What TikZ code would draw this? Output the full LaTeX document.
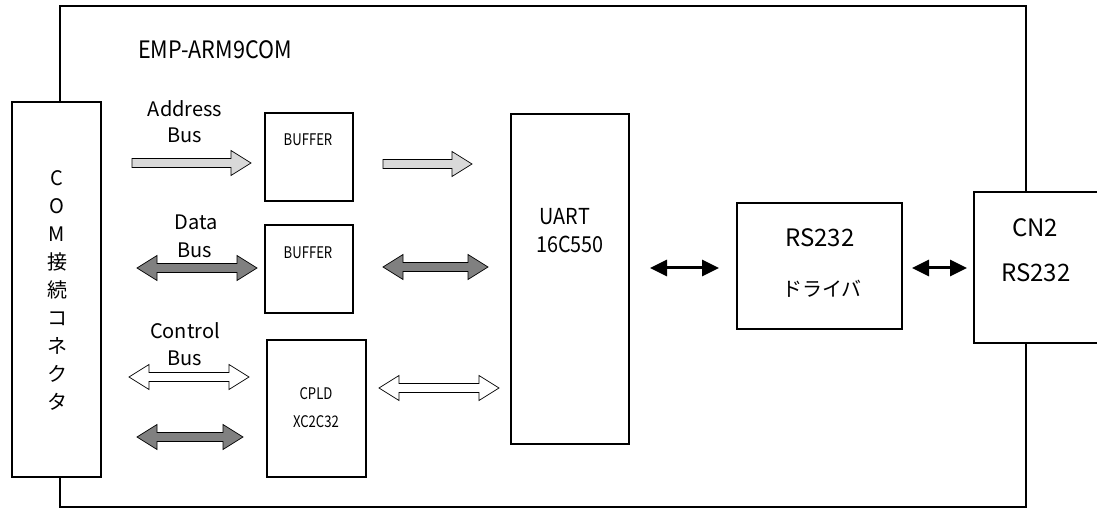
\documentclass[tikz,border=0pt]{standalone}
\usepackage{fontspec}
\setmainfont{Noto Sans CJK JP}
\newfontfamily\jp{Noto Sans CJK JP}
\newfontfamily\lat[FakeStretch=0.9]{Noto Sans CJK JP}
\newfontfamily\cond[FakeStretch=0.82]{Noto Sans CJK JP}
\usetikzlibrary{arrows.meta,calc}
\definecolor{lgray}{RGB}{217,217,217}
\definecolor{dgray}{RGB}{128,128,128}
\newcommand\onearrow[4]{%
  \draw[barrow,fill=#4] (#1,{#3-4.5}) -- ({#2-20},{#3-4.5}) -- ({#2-20},{#3-12.5}) -- (#2,#3)
    -- ({#2-20},{#3+12.5}) -- ({#2-20},{#3+4.5}) -- (#1,{#3+4.5}) -- cycle;}
\newcommand\twoarrow[4]{%
  \draw[barrow,fill=#4] (#1,#3) -- ({#1+20},{#3-12.5}) -- ({#1+20},{#3-4.5}) -- ({#2-20},{#3-4.5})
    -- ({#2-20},{#3-12.5}) -- (#2,#3) -- ({#2-20},{#3+12.5}) -- ({#2-20},{#3+4.5})
    -- ({#1+20},{#3+4.5}) -- ({#1+20},{#3+12.5}) -- cycle;}
\begin{document}
\begin{tikzpicture}[x=1pt,y=-1pt,
  board/.style={draw=black,line width=1.2pt},
  blockbox/.style={draw=black,fill=white,line width=1.6pt,inner sep=0pt},
  barrow/.style={draw=black,line width=0.7pt,line join=miter},
  titletxt/.style={font=\lat\fontsize{24}{24}\selectfont,inner sep=0pt,anchor=base},
  bigtxt/.style={font=\jp\fontsize{24}{24}\selectfont,inner sep=0pt,anchor=base},
  lbltxt/.style={font=\jp\fontsize{20}{20}\selectfont,inner sep=0pt,anchor=base},
  midtxt/.style={font=\lat\fontsize{22}{22}\selectfont,inner sep=0pt,anchor=base},
  smalltxt/.style={font=\cond\fontsize{16}{16}\selectfont,inner sep=0pt,anchor=base},
  blackarrow/.style={line width=3pt,{Triangle[length=17pt,width=16pt]}-{Triangle[length=17pt,width=16pt]}}]
\useasboundingbox (0,0) rectangle (1097,510);
\clip (0,0) rectangle (1097,510);
\fill[white] (0,0) rectangle (1097,510);
% board
\draw[board] (60,6) rectangle (1026,507);
% boxes
\node[blockbox,minimum width=89pt,minimum height=375pt] (com) at (56.5,289.5) {};
\node[blockbox,minimum width=88pt,minimum height=88pt] (buf1) at (309,157) {};
\node[blockbox,minimum width=88pt,minimum height=88pt] (buf2) at (309,269) {};
\node[blockbox,minimum width=99pt,minimum height=137pt] (cpld) at (316.5,408.5) {};
\node[blockbox,minimum width=118pt,minimum height=330pt] (uart) at (570,279) {};
\node[blockbox,minimum width=165pt,minimum height=126pt] (rs) at (819.5,266) {};
\node[blockbox,minimum width=140pt,minimum height=151pt] (cn) at (1044,267.5) {};
% texts
\node[titletxt] (title) at (215,59) {EMP-ARM9COM};
\node[font=\jp\fontsize{20}{28}\selectfont,align=center,inner sep=0pt] (comtxt) at (57,290) {C\\O\\M\\接\\続\\コ\\ネ\\ク\\タ};
\node[lbltxt] (addr1) at (185,117) {Address};
\node[lbltxt] (addr2) at (185,143) {Bus};
\node[lbltxt] (data1) at (196,230) {Data};
\node[lbltxt] (data2) at (195,258) {Bus};
\node[lbltxt] (ctrl1) at (185,338) {Control};
\node[lbltxt] (ctrl2) at (185,366) {Bus};
\node[smalltxt] (b1txt) at (308,146) {BUFFER};
\node[smalltxt] (b2txt) at (308,259) {BUFFER};
\node[smalltxt] (c1txt) at (316,399) {CPLD};
\node[smalltxt] (c2txt) at (316,427) {XC2C32};
\node[midtxt] (u1txt) at (565,225) {UART};
\node[midtxt] (u2txt) at (570,253) {16C550};
\node[bigtxt] (r1txt) at (820,247) {RS232};
\node[font=\jp\fontsize{20}{20}\selectfont,inner sep=0pt] (r2txt) at (822,289) {ドライバ};
\node[bigtxt] (n1txt) at (1035,237) {CN2};
\node[bigtxt] (n2txt) at (1036,282) {RS232};
% block arrows
\onearrow{132}{251}{163}{lgray}
\onearrow{383}{472}{164}{lgray}
\twoarrow{137}{257}{268}{dgray}
\twoarrow{383}{488}{267}{dgray}
\twoarrow{129}{249}{377}{white}
\twoarrow{379}{499}{388}{white}
\twoarrow{137}{243}{437}{dgray}
% black arrows
\coordinate (a1) at (650,268);
\coordinate (a2) at (719,268);
\coordinate (a3) at (912,268);
\coordinate (a4) at (967,268);
\draw[blackarrow] (a1) -- (a2);
\draw[blackarrow] (a3) -- (a4);
\end{tikzpicture}
\end{document}
